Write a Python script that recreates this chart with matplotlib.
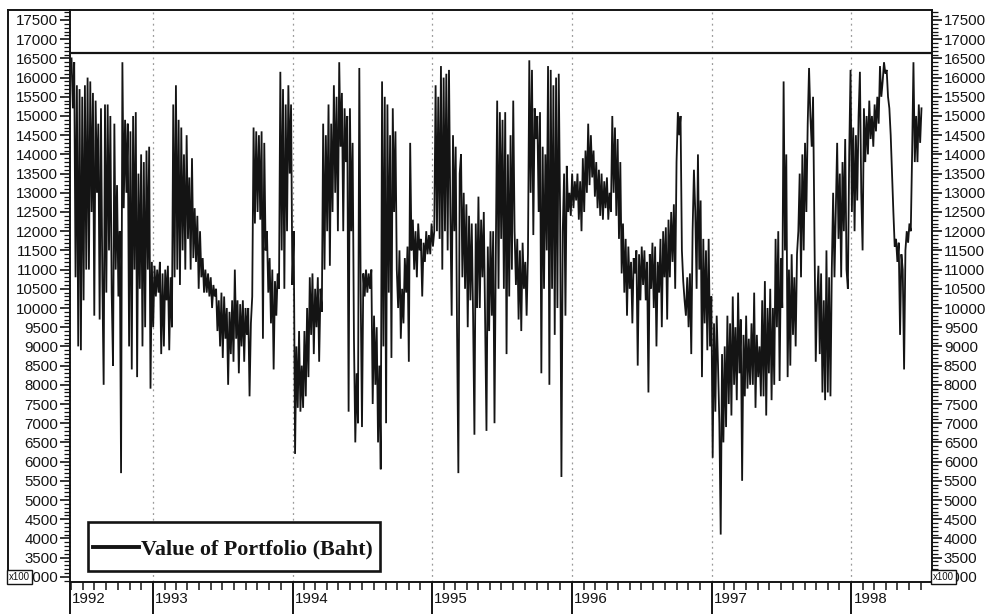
import matplotlib
matplotlib.use("Agg")
import matplotlib.pyplot as plt
import matplotlib.dates as mdates
from matplotlib.lines import Line2D
from matplotlib.patches import Rectangle
from matplotlib.ticker import MultipleLocator, FixedLocator, NullFormatter, FuncFormatter
import pandas as pd

# Half-weekly portfolio value (x100 Baht), grouped by calendar year
vals_1992 = [16500, 15200, 16400, 10800, 15800, 9000,
             15700, 8900, 15500, 10200, 15800, 11000,
             16000, 11000, 15900, 12500, 15600, 9800,
             15400, 13000, 14800, 9700, 15200, 10800,
             8000, 15300, 10400, 15300, 11500, 15000,
             10400, 8500, 14800, 11000, 13200, 10300,
             12000, 5700, 16400, 12600, 14900, 13000,
             14800, 9000, 14600, 8400, 15000, 11000,
             15100, 8200, 13500, 10500, 14000, 9000,
             13800, 9500, 14100, 11000, 14200, 7900]
vals_1993 = [11200, 9500, 11100, 10300, 11000, 10400, 11200, 8800,
             10900, 9000, 11000, 10200, 11100, 8900, 10800, 9500,
             15300, 10800, 15800, 11000, 14900, 10600, 14700, 11500,
             14000, 11000, 14500, 11800, 13400, 11000, 13900, 11300,
             12600, 11200, 12400, 10500, 12000, 10800, 11300, 10400,
             11000, 10400, 10900, 10300, 10800, 10000, 10600, 10300,
             10500, 9400, 10200, 9000, 10400, 8700, 10300, 9200,
             10000, 8000, 9900, 8800, 10200, 8600, 11000, 9200,
             10200, 8300, 10100, 9000, 10200, 8600, 10000, 9300,
             10000, 7700, 9600, 10300, 14700, 12200, 14600, 12500,
             14500, 12300, 14600, 9200, 14300, 11500, 12000, 10400,
             11300, 9600, 11000, 8400, 10700, 9800, 10900, 10500,
             16150, 11500, 15700, 10500, 15300, 12000, 15800, 13500]
vals_1994 = [15300, 10600, 12000, 6200, 9000, 7400, 9400, 7300,
             8500, 7400, 9400, 7700, 10000, 8200, 10800, 9300,
             10900, 8800, 10500, 9500, 10800, 8600, 10500, 9900,
             14800, 11000, 14500, 12000, 15300, 11100, 14800, 12500,
             15800, 13000, 15500, 12000, 16400, 14200, 15600, 12000,
             15200, 13800, 15000, 7300, 15200, 12000, 14300, 9200,
             6500, 8300, 7000, 16250, 10500, 6900, 10900, 10300,
             11000, 10400, 10900, 10500, 11000, 7500, 9800, 8000,
             9500, 6500, 8500, 5800, 15900, 9000, 15500, 7000,
             15300, 10400, 14500, 8700, 15200, 12500, 14600, 11000,
             10000, 11500, 9200, 10500, 9600, 11300, 10400, 11600,
             8600, 14300, 11500, 12300, 11000, 12000, 10800, 12200,
             11500, 11800, 10300, 11700, 11200, 12000, 11400, 11900]
vals_1995 = [11400, 12200, 11600, 12000, 15800, 12000, 15500, 11800,
             16300, 11000, 16000, 12000, 16100, 11500, 16200, 12500,
             9800, 14500, 12000, 14200, 9500, 5700, 13500, 14000,
             10800, 13000, 10500, 12700, 9500, 12400, 10200, 12200,
             9800, 6700, 12200, 10000, 12900, 10000, 12300, 10800,
             12500, 9600, 6800, 11600, 9400, 12000, 9800, 12000,
             7000, 11500, 15400, 10500, 15100, 11800, 14900, 10500,
             15100, 8800, 14000, 10300, 14500, 11000, 15400, 12000,
             10600, 11800, 9700, 11500, 9400, 11700, 10500, 11200,
             9800, 11400, 16450, 13000, 16200, 11900, 15200, 14400,
             15000, 12500, 15100, 8300, 14200, 10500, 14000, 11500,
             16300, 8000, 16200, 10500, 15800, 9300, 16000, 10000,
             16100, 12500, 5600, 12000, 13500, 9800, 13700, 12500]
vals_1996 = [13000, 12400, 13500, 12600, 13300, 12800, 13500, 12300,
             13300, 12000, 13900, 12500, 14100, 13000, 14800, 13200,
             14500, 13400, 14100, 12900, 13800, 12600, 13600, 12400,
             13500, 12300, 13300, 12600, 13400, 12300, 13000, 12500,
             15000, 13000, 14700, 12400, 14400, 11800, 13800, 10900,
             12200, 10400, 11800, 9800, 11600, 10500, 11200, 9600,
             11300, 10900, 11500, 8500, 11400, 10200, 11600, 10600,
             11500, 10200, 11200, 7800, 11400, 10500, 11700, 10000,
             11600, 9000, 11200, 10400, 11800, 9500, 12000, 10800,
             12100, 9700, 12300, 10800, 12500, 11200, 12700, 10500,
             13800, 15100, 14500, 15000, 11500, 10700, 10200, 9800,
             10800, 9500, 10900, 8800, 12000, 13600, 12500, 10500,
             14000, 11000, 12800, 8200, 11800, 9600, 11500, 8900]
vals_1997 = [11800, 9000, 10300, 6100, 9600, 7300, 9800, 8500,
             7000, 4100, 8800, 6500, 9000, 6900, 9800, 7500,
             9600, 7200, 10300, 8000, 9500, 7600, 10400, 8300,
             9700, 5500, 9300, 7700, 9800, 7900, 9200, 8000,
             9600, 8000, 10400, 7400, 9300, 8200, 9000, 7700,
             10200, 7700, 10700, 7200, 10000, 8300, 10500, 7600,
             10000, 8000, 11800, 9500, 12000, 8100, 11300, 10000,
             15900, 11500, 14000, 8200, 11000, 8500, 11400, 9300,
             10800, 9000, 11400, 12000, 13500, 10800, 14000, 11500,
             14300, 12500, 14800, 16250, 15000, 14200, 15500, 12000,
             8600, 10200, 11100, 8800, 10900, 7800, 10200, 7600,
             11500, 7800, 10800, 7700, 11000, 13000, 10800, 12500,
             14300, 11800, 13500, 10800, 13800, 12000, 14400, 11000]
vals_1998 = [10500, 14000, 16200, 12500, 14700, 12000, 14500, 12800,
             15000, 16150, 13000, 11500, 15200, 13800, 15000, 14000,
             15400, 14400, 15000, 14200, 15300, 14600, 15500, 14800,
             16300, 15500, 15900, 16400, 16100, 16200, 15500, 15200,
             14500, 13500, 12500, 11600, 11800, 11200, 11700, 9300,
             11400, 11000, 8400, 11500, 12000, 11700, 12200, 12000,
             14000, 16400, 13800, 15000, 13800, 15300, 14300, 15200]

series_label = "Value of Portfolio (Baht)"
reference_level = 16650
year_labels = ["1992", "1993", "1994", "1995", "1996", "1997", "1998"]

values = (vals_1992 + vals_1993 + vals_1994 + vals_1995 +
          vals_1996 + vals_1997 + vals_1998)
dates = pd.date_range("1992-06-02", periods=len(values), freq="84h")

INK = "#141414"
W, H = 991, 614
fig = plt.figure(figsize=(W / 100, H / 100), dpi=100)
fig.patch.set_facecolor("white")
ax = fig.add_axes([70 / W, 1 - 582 / H, (932 - 70) / W, (582 - 10) / H])

ax.plot(dates, values, color=INK, lw=1.3, solid_joinstyle="miter")
ax.axhline(reference_level, color=INK, lw=1.6)

x0 = pd.Timestamp("1992-05-29")
x1 = pd.Timestamp("1998-07-31")
ax.set_xlim(x0, x1)
ax.set_ylim(2865, 17760)

# year gridlines
year_starts = [pd.Timestamp(f"{y}-01-01") for y in range(1993, 1999)]
for d in year_starts:
    ax.axvline(d, color="#9a9a9a", lw=0.9, ls=(0, (1.5, 3)), zorder=0)

# x axis ticks
major_pos = [mdates.date2num(x0)] + [mdates.date2num(d) for d in year_starts]
ax.xaxis.set_major_locator(FixedLocator(major_pos))
ax.xaxis.set_major_formatter(NullFormatter())
ax.xaxis.set_minor_locator(mdates.MonthLocator())
ax.tick_params(axis="x", which="major", direction="out", length=23, width=1.4,
               color=INK)
ax.tick_params(axis="x", which="minor", direction="out", length=6, width=1.1,
               color=INK)
for pos, lab in zip(major_pos, year_labels):
    ax.annotate(lab, xy=(pos, 0), xycoords=("data", "axes fraction"),
                xytext=(1.5, -7.5), textcoords="offset points", ha="left", va="top",
                fontsize=10.8, family="Liberation Sans", color=INK)

# y axis on both sides
ax.yaxis.set_major_locator(MultipleLocator(500))
ax.yaxis.set_minor_locator(MultipleLocator(100))
ax.yaxis.set_major_formatter(FuncFormatter(
    lambda v, p: f"{int(v)}" if v >= 3000 else ""))
ax.tick_params(axis="y", which="both", left=True, right=True,
               labelleft=True, labelright=True, direction="out",
               color=INK, labelsize=10.8, labelcolor=INK)
ax.tick_params(axis="y", which="major", length=7, width=1.2, pad=1.5)
ax.tick_params(axis="y", which="minor", length=4, width=0.9)
for t in ax.yaxis.get_ticklabels(which="both"):
    t.set_fontfamily("Liberation Sans")

for s in ax.spines.values():
    s.set_color(INK)
    s.set_linewidth(1.4)


def px(x, y):
    return x / W, 1 - y / H


# legend box, sample line and label
lx0, ly0 = px(88, 571)
lx1, ly1 = px(380, 522)
fig.add_artist(Rectangle((lx0, ly0), lx1 - lx0, ly1 - ly0, transform=fig.transFigure,
                         fc="white", ec=INK, lw=1.9, zorder=5))
fig.add_artist(Line2D([px(93, 0)[0], px(139, 0)[0]], [px(0, 547)[1]] * 2,
                      transform=fig.transFigure, color=INK, lw=2.8, zorder=6))
fig.text(px(141, 0)[0], px(0, 547)[1], series_label, transform=fig.transFigure,
         family="Liberation Serif", weight="bold", fontsize=15.8, color=INK,
         ha="left", va="center_baseline", zorder=6)


def fig_line(xa, ya, xb, yb, lw=1.4):
    fig.add_artist(Line2D([xa / W, xb / W], [1 - ya / H, 1 - yb / H],
                          transform=fig.transFigure, color=INK, lw=lw))


# outer frame of the left label panel
fig_line(8, 10, 70, 10)
fig_line(8, 10, 8, 583)

# scale boxes
for xb in (9, 933):
    fig.text(xb / W, 1 - 577 / H, "x100", fontsize=7, family="Liberation Sans",
             ha="left", va="center", color=INK,
             bbox=dict(boxstyle="square,pad=0.2", fc="white", ec=INK, lw=1.0),
             zorder=10)

fig.savefig("out.png", dpi=100)
